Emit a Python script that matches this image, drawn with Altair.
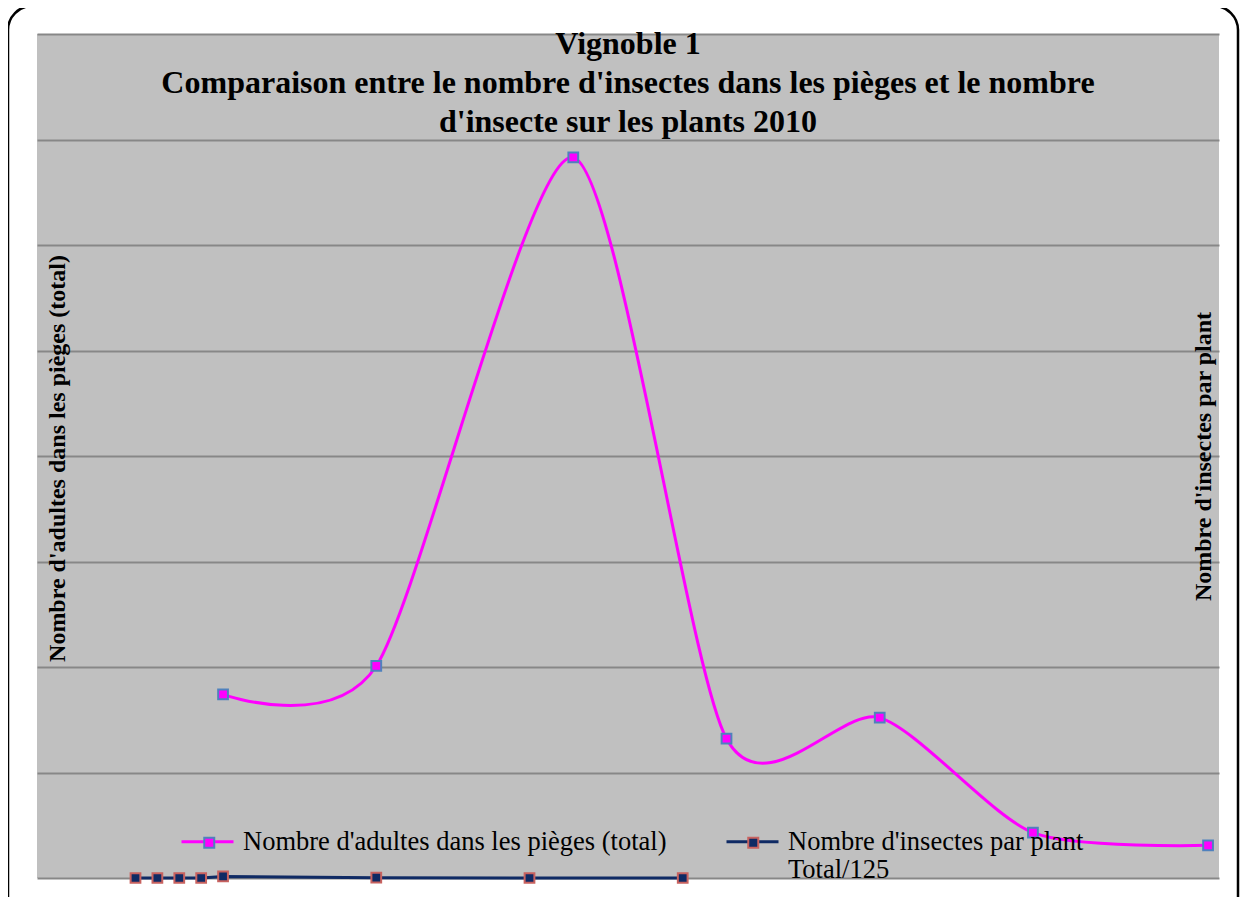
import altair as alt
import pandas as pd

# ---- data ----
jours_adultes = [0, 7, 16, 23, 30, 37, 45]
adultes = [17.4, 20.1, 68.3, 13.2, 15.2, 4.3, 3.1]

jours_plants = [-4, -3, -2, -1, 0, 7, 14, 21]
insectes_plant = [0.0, 0.0, 0.0, 0.0, 0.15, 0.03, 0.0, 0.0]

serie_a = "Nombre d'adultes dans les pièges (total)"
serie_b = "Nombre d'insectes par plant|Total/125"

titre = [
    "Vignoble 1",
    "Comparaison entre le nombre d'insectes dans les pièges et le nombre",
    "d'insecte sur les plants 2010",
]
titre_gauche = "Nombre d'adultes dans les pièges (total)"
titre_droite = "Nombre d'insectes par plant"

# ---- tables ----
df_a = pd.DataFrame({"jour": jours_adultes, "valeur": adultes, "serie": serie_a})
df_b = pd.DataFrame({"jour": jours_plants, "valeur": insectes_plant, "serie": serie_b})
df = pd.concat([df_a, df_b], ignore_index=True)
df["serie2"] = df["serie"]

W, H = 1182, 844
SERIF = "Liberation Serif"

x_scale = alt.Scale(domain=[-8.5, 45.5], nice=False, zero=False)
y_scale = alt.Scale(domain=[0, 80], nice=False)
color_scale = alt.Scale(range=["#FF00FF", "#0F2A64"])
fill_scale = alt.Scale(range=["#FF00FF", "#0F2A64"])
stroke_scale = alt.Scale(range=["#4F81BD", "#C8625F"])

LX, LY = 143, 780
label_expr = "indexof(datum.label, '|') < 0 ? [datum.label, ' '] : split(datum.label, '|')"
common_leg = dict(
    title=None, orient="none", direction="horizontal", padding=0,
    labelFont=SERIF, labelFontSize=26.5, labelColor="black", labelLimit=900,
    columnPadding=53, labelExpr=label_expr, labelBaseline="middle",
)
legend_lines = alt.Legend(
    legendX=LX, legendY=LY, symbolType="stroke", symbolSize=2704,
    symbolStrokeWidth=3, labelOffset=8, **common_leg
)
legend_marks = alt.Legend(
    legendX=LX + 16, legendY=LY + 15, symbolType="square", symbolSize=100,
    symbolStrokeWidth=2, labelOffset=40, labelOpacity=0, **common_leg
)

x_enc = alt.X("jour:Q", scale=x_scale, axis=None)

axis_left = alt.Axis(
    orient="left", grid=True, gridColor="#878787", gridWidth=2, gridOpacity=1,
    labels=False, ticks=False, domain=False, values=list(range(0, 81, 10)),
    title=titre_gauche, titleFont=SERIF, titleFontSize=24, titleFontWeight="bold",
    titleColor="black", titleAngle=270, titleX=20, titleY=424,
    titleAlign="center", titleBaseline="middle",
)
axis_right = alt.Axis(
    orient="right", grid=False, labels=False, ticks=False, domain=False,
    title=titre_droite, titleFont=SERIF, titleFontSize=24, titleFontWeight="bold",
    titleColor="black", titleAngle=270, titleX=-16, titleY=422,
    titleAlign="center", titleBaseline="middle",
)

base = alt.Chart(df)

line_a = base.transform_filter(alt.datum.serie == serie_a).mark_line(
    interpolate="cardinal", tension=0.25, strokeWidth=3
).encode(
    x=x_enc,
    y=alt.Y("valeur:Q", scale=y_scale, axis=axis_left),
    color=alt.Color("serie:N", scale=color_scale, legend=legend_lines),
)
pts_a = base.transform_filter(alt.datum.serie == serie_a).mark_point(
    shape="square", filled=True, size=95, strokeWidth=2, opacity=1
).encode(
    x=x_enc,
    y=alt.Y("valeur:Q", scale=y_scale, axis=None),
    fill=alt.Fill("serie2:N", scale=fill_scale, legend=legend_marks),
    stroke=alt.Stroke("serie2:N", scale=stroke_scale, legend=legend_marks),
)
line_b = base.transform_filter(alt.datum.serie == serie_b).mark_line(
    strokeWidth=3
).encode(
    x=x_enc,
    y=alt.Y("valeur:Q", scale=y_scale, axis=axis_right),
    color=alt.Color("serie:N", scale=color_scale, legend=legend_lines),
)
pts_b = base.transform_filter(alt.datum.serie == serie_b).mark_point(
    shape="square", filled=True, size=95, strokeWidth=2, opacity=1
).encode(
    x=x_enc,
    y=alt.Y("valeur:Q", scale=y_scale, axis=None),
    fill=alt.Fill("serie2:N", scale=fill_scale, legend=legend_marks),
    stroke=alt.Stroke("serie2:N", scale=stroke_scale, legend=legend_marks),
)

# rounded outer border of the chart area (decoration)
cadre = alt.Chart(alt.Data(values=[{"k": 1}])).mark_rect(
    fill=None, stroke="black", strokeWidth=2.5, cornerRadius=24, clip=False
).encode(
    x=alt.value(-29), x2=alt.value(W + 19),
    y=alt.value(-28), y2=alt.value(H + 60),
)

chart = alt.layer(cadre, line_a, pts_a, line_b, pts_b).resolve_scale(
    y="independent"
).properties(
    width=W, height=H,
    title=alt.TitleParams(
        text=titre, font=SERIF, fontSize=32, fontWeight="bold", color="black",
        anchor="middle", frame="group", baseline="top", offset=-134, lineHeight=39,
    ),
    autosize=alt.AutoSizeParams(type="none"),
    padding={"left": 29, "top": 26, "right": 21, "bottom": 19},
).configure_view(
    fill="#C0C0C0", stroke=None, strokeWidth=0
)

chart.save("out.html", embed_options={"renderer": "svg", "actions": False})
